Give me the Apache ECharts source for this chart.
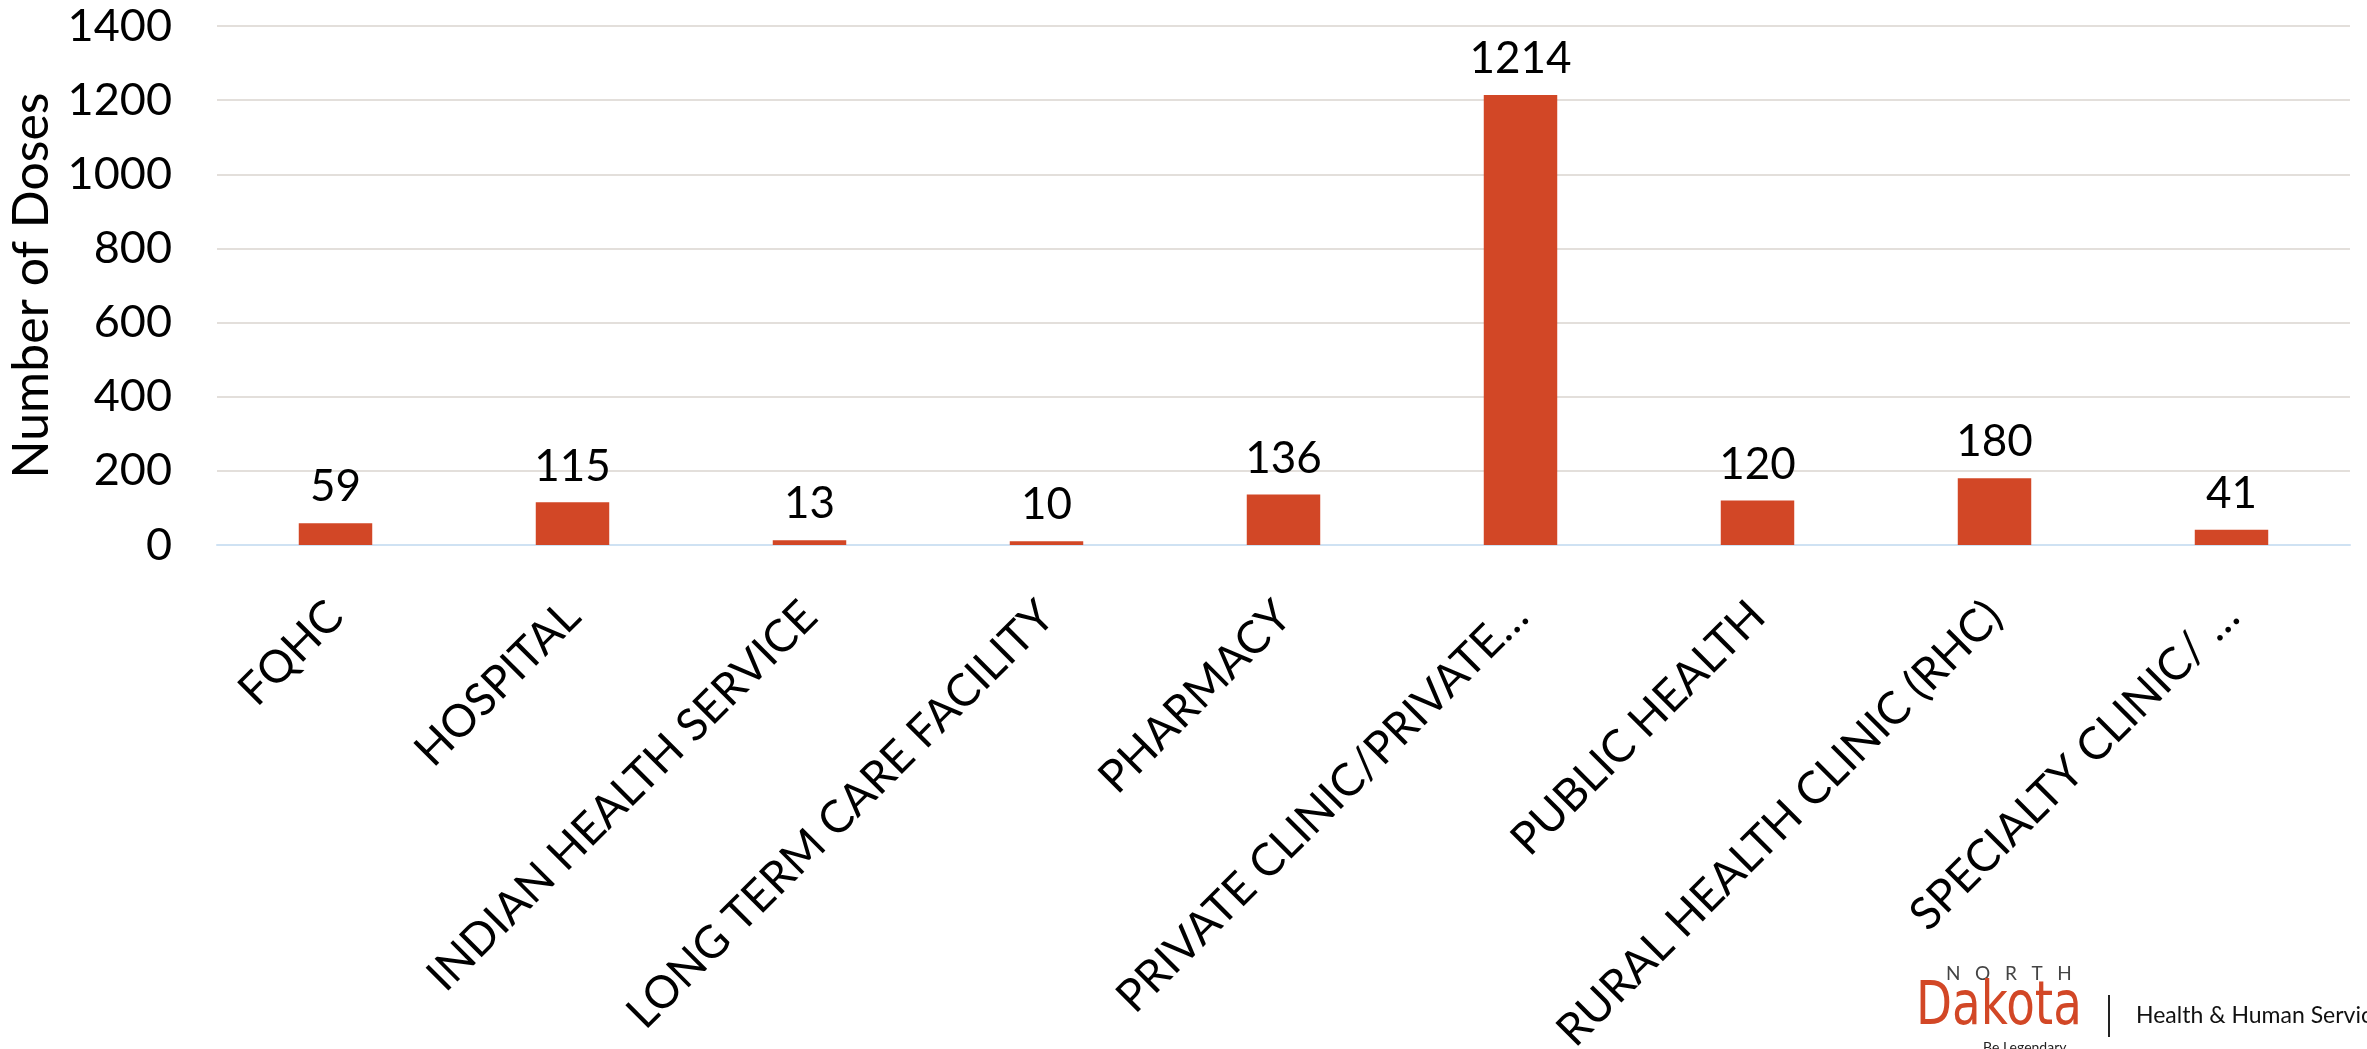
<!DOCTYPE html>
<html>
<head>
<meta charset="utf-8">
<title>Number of Doses by Provider Type</title>
<script src="https://cdn.jsdelivr.net/npm/echarts@6/dist/echarts.min.js"></script>
<style>
  html, body { margin: 0; padding: 0; background: #ffffff; }
  #chart { width: 2367px; height: 1049px; }
</style>
</head>
<body>
<div id="chart"></div>
<script>
// Provider types and doses administered
const categories = [
  'FQHC',
  'HOSPITAL',
  'INDIAN HEALTH SERVICE',
  'LONG TERM CARE FACILITY',
  'PHARMACY',
  'PRIVATE CLINIC/PRIVATE\u2026',
  'PUBLIC HEALTH',
  'RURAL HEALTH CLINIC (RHC)',
  'SPECIALTY CLINIC/ \u2026'
];
const doses = [59, 115, 13, 10, 136, 1214, 120, 180, 41];

// Value axis range
const yMin = 0;
const yMax = 1400;
const yStep = 200;

const FONT = 'Lato, "Open Sans", sans-serif';
const BAR_COLOR = '#D24726';

const chart = echarts.init(document.getElementById('chart'), null, { renderer: 'canvas' });

chart.setOption({
  backgroundColor: '#ffffff',
  animation: false,
  grid: {
    left: 217, right: 17, top: 26, bottom: 504,
    containLabel: false,
    outerBoundsMode: 'none'
  },
  xAxis: {
    type: 'category',
    data: categories,
    axisLine: { show: true, lineStyle: { color: '#CFE2F3', width: 2 } },
    axisTick: { show: false },
    axisLabel: {
      interval: 0,
      rotate: 45,
      margin: 64,
      color: '#000000',
      fontFamily: FONT,
      fontSize: 45
    },
    splitLine: { show: false }
  },
  yAxis: {
    type: 'value',
    min: yMin,
    max: yMax,
    interval: yStep,
    name: 'Number of Doses',
    nameLocation: 'middle',
    nameRotate: 90,
    nameGap: 150,
    nameTextStyle: { color: '#000000', fontFamily: FONT, fontSize: 50 },
    axisLine: { show: false },
    axisTick: { show: false },
    axisLabel: {
      margin: 45,
      color: '#000000',
      fontFamily: FONT,
      fontSize: 45,
      formatter: (v) => String(v)
    },
    splitLine: { show: true, lineStyle: { color: '#E3DFDB', width: 2 } }
  },
  series: [{
    type: 'bar',
    data: doses,
    barCategoryGap: '69%',
    itemStyle: { color: BAR_COLOR },
    label: {
      show: true,
      position: 'top',
      distance: 14,
      color: '#000000',
      fontFamily: FONT,
      fontSize: 44
    }
  }],
  graphic: [
    {
      type: 'text', left: 1946, top: 964,
      style: { text: 'N   O   R   T   H', fill: '#444444', font: '400 19px ' + FONT }
    },
    {
      type: 'text', x: 1916, y: 978, scaleX: 0.78,
      style: { text: 'Dakota', fill: '#D24726', font: '400 60px "DejaVu Sans", ' + FONT }
    },
    {
      type: 'rect', shape: { x: 2108, y: 995, width: 2, height: 42 },
      style: { fill: '#222222' }
    },
    {
      type: 'text', left: 2136, top: 1004,
      style: { text: 'Health & Human Services', fill: '#111111', font: '400 23px ' + FONT }
    },
    {
      type: 'text', left: 1983, top: 1040,
      style: { text: 'Be Legendary', fill: '#222222', font: '400 14px ' + FONT }
    }
  ]
});
</script>
</body>
</html>
